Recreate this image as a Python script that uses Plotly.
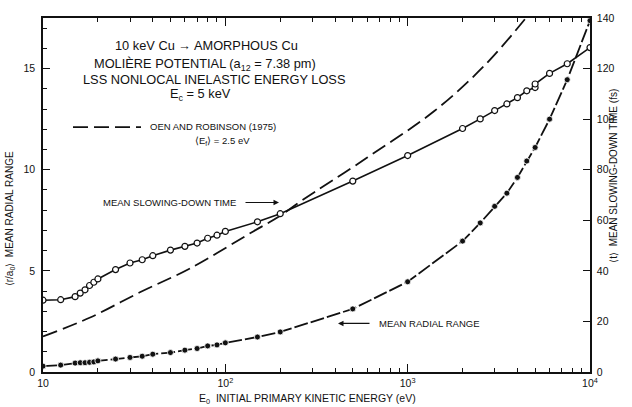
import plotly.graph_objects as go

# ---------------- data ----------------
energy_time = [10, 12.5, 15, 16, 17, 18, 19, 20, 25, 30, 35, 40, 50, 60, 70, 80, 90, 100,
               150, 200, 500, 1000, 2000, 2500, 3000, 3500, 4000, 4500, 5000, 5000, 6000, 7500, 10000]
slowing_time_fs = [28.4, 28.6, 29.8, 31.2, 32.5, 34.2, 35.5, 36.8, 40.5, 43.1, 44.4, 46.0, 48.2, 49.7,
                   51.0, 52.9, 54.1, 55.6, 59.4, 62.6, 75.5, 85.6, 96.3, 100.1, 103.4, 106.0, 108.5,
                   111.2, 112.5, 113.9, 118.1, 121.9, 128.3]

energy_range = [10, 12.5, 15, 16, 17, 18, 19, 20, 25, 30, 35, 40, 50, 60, 70, 80, 90, 100,
                150, 200, 500, 1000, 2000, 2500, 3000, 3500, 4000, 4500, 5000, 6000, 7500, 10000]
radial_range = [0.29, 0.34, 0.44, 0.46, 0.46, 0.48, 0.50, 0.55, 0.64, 0.72, 0.78, 0.88, 0.96, 1.08,
                1.16, 1.29, 1.34, 1.44, 1.73, 1.98, 3.12, 4.46, 6.47, 7.37, 8.19, 8.84, 9.62, 10.43,
                11.1, 12.5, 14.45, 17.37]

energy_oen = [10, 18, 34, 64, 143, 200, 258, 600, 1400, 2625, 4450, 5000]
range_oen = [1.76, 2.68, 3.94, 5.12, 6.96, 7.72, 8.43, 10.6, 12.9, 15.13, 17.5, 18.1]

x_tick_vals = [10, 100, 1000, 10000]
x_tick_text = ["10", "10<sup>2</sup>", "10<sup>3</sup>", "10<sup>4</sup>"]
y_left_ticks = [0, 5, 10, 15]
y_right_ticks = [0, 20, 40, 60, 80, 100, 120, 140]

# ---------------- layout helpers ----------------
W, H = 632, 407
L, R, T, B = 43, 590, 15, 372  # plot area in window pixels


def px(xp, yp):
    return (xp - L) / (R - L), (B - yp) / (B - T)


FONT = "Liberation Sans, Arial, Helvetica, sans-serif"
INK = "#111111"

fig = go.Figure()

fig.add_trace(go.Scatter(
    x=energy_oen, y=range_oen, mode="lines",
    line=dict(color=INK, width=1.8, dash="15px,6px", shape="spline"),
    yaxis="y", showlegend=False, hoverinfo="skip"))

fig.add_trace(go.Scatter(
    x=energy_range, y=radial_range, mode="lines+markers",
    line=dict(color=INK, width=1.8, dash="14px,3px"),
    marker=dict(symbol="circle", size=6, color=INK, line=dict(color="white", width=0.8)),
    yaxis="y", showlegend=False))

fig.add_trace(go.Scatter(
    x=energy_time, y=slowing_time_fs, mode="lines+markers",
    line=dict(color=INK, width=1.6),
    marker=dict(symbol="circle", size=6, color="white", line=dict(color=INK, width=1.2)),
    yaxis="y2", showlegend=False))

axis_common = dict(showline=True, linecolor=INK, linewidth=1.5, ticks="inside",
                   tickcolor=INK, tickwidth=1.2, showgrid=False, zeroline=False,
                   tickfont=dict(family=FONT, size=10.5, color=INK))

fig.update_layout(
    width=W, height=H,
    margin=dict(l=L, r=W - R, t=T, b=H - B, pad=0),
    paper_bgcolor="white", plot_bgcolor="white",
    font=dict(family=FONT, color=INK),
    xaxis=dict(type="log", range=[1, 4], tickmode="array", tickvals=x_tick_vals, ticktext=x_tick_text,
               ticklen=8, mirror="ticks", ticklabelstandoff=1,
               minor=dict(ticks="inside", ticklen=4, tickcolor=INK, tickwidth=1,
                          tickvals=[m * d for d in (10, 100, 1000) for m in range(2, 10)]),
               **axis_common),
    yaxis=dict(range=[0, 17.5], tickmode="array", tickvals=y_left_ticks, ticklen=7,
               ticklabelstandoff=4,
               minor=dict(ticks="inside", ticklen=4, tickcolor=INK, tickwidth=1, dtick=1, tick0=0),
               **axis_common),
    yaxis2=dict(range=[0, 140], overlaying="y", side="right", tickmode="array",
                tickvals=y_right_ticks, ticklen=7, ticklabelstandoff=3, **axis_common),
)

annotations = []


def text(xp, yp, s, size=12.8, anchor="left", angle=0):
    xx, yy = px(xp, yp)
    annotations.append(dict(x=xx, y=yy, xref="paper", yref="paper", text=s, showarrow=False,
                            xanchor=anchor, yanchor="middle", textangle=angle,
                            font=dict(family=FONT, size=size, color=INK)))


text(113, 43, "10 keV Cu \u2192 AMORPHOUS Cu")
text(92, 62, "MOLI\u00c8RE POTENTIAL (a<sub>12</sub> = 7.38 pm)")
text(81, 77, "LSS NONLOCAL INELASTIC ENERGY LOSS")
text(168, 92, "E<sub>c</sub> = 5 keV")
text(148, 124, "OEN AND ROBINSON (1975)", size=9.5)
text(222, 139, "\u27e8E<sub>f</sub>\u27e9 = 2.5 eV", size=9.5, anchor="center")
text(238, 201, "MEAN SLOWING-DOWN TIME", size=9.5, anchor="right")
text(377, 323, "MEAN RADIAL RANGE", size=9.5)
text(307, 399, "E<sub>0</sub>  INITIAL PRIMARY KINETIC ENERGY (eV)", size=10.5, anchor="center")
text(10, 218, "\u27e8r/a<sub>0</sub>\u27e9  MEAN RADIAL RANGE", size=10, anchor="center", angle=-90)
text(614, 174, "\u27e8t\u27e9  MEAN SLOWING-DOWN TIME (fs)", size=10, anchor="center", angle=-90)

# arrows
for (hx, hy, tx, ty) in [(279, 201, 244, 201), (338, 323, 371, 323)]:
    xx, yy = px(hx, hy)
    annotations.append(dict(x=xx, y=yy, xref="paper", yref="paper", text="", showarrow=True,
                            ax=tx - hx, ay=ty - hy, arrowhead=2, arrowsize=1, arrowwidth=1.1,
                            arrowcolor=INK))

fig.update_layout(annotations=annotations)

# dashed legend sample
x0, y0 = px(73, 125)
x1, _ = px(141, 125)
fig.add_shape(type="line", xref="paper", yref="paper", x0=x0, y0=y0, x1=x1, y1=y0,
              line=dict(color=INK, width=1.8, dash="15px,6px"))

fig.write_html("out.html", config={"displayModeBar": False},
               post_script="document.body.style.margin='0';")
